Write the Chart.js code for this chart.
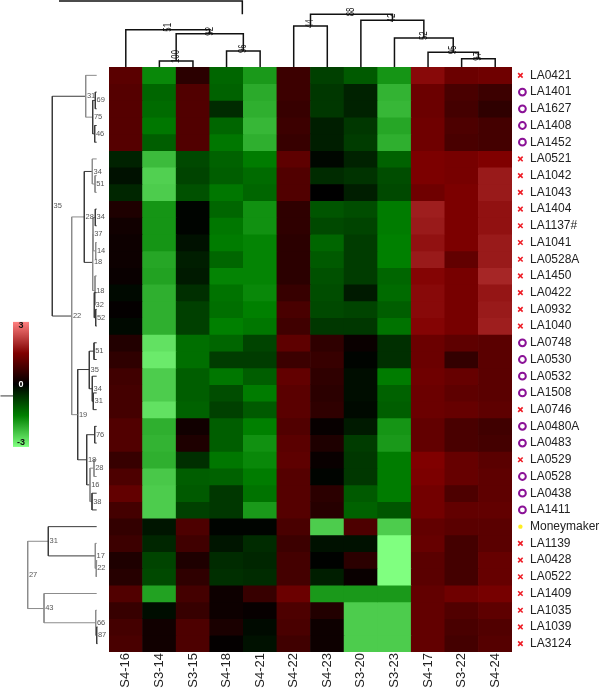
<!DOCTYPE html>
<html>
<head>
<meta charset="utf-8">
<style>html,body{margin:0;padding:0;background:#fff}canvas{display:block}</style>
<script src="https://cdn.jsdelivr.net/npm/chart.js@4/dist/chart.umd.min.js"></script>
</head>
<body>
<canvas id="c" width="600" height="688"></canvas>
<script>
const columnNames = ['S4-16','S3-14','S3-15','S4-18','S4-21','S4-22','S4-23','S3-20','S3-23','S4-17','S3-22','S4-24'];
const rowNames = ['LA0421','LA1401','LA1627','LA1408','LA1452','LA0521','LA1042','LA1043','LA1404','LA1137#','LA1041','LA0528A','LA1450','LA0422','LA0932','LA1040','LA0748','LA0530','LA0532','LA1508','LA0746','LA0480A','LA0483','LA0529','LA0528','LA0438','LA1411','Moneymaker','LA1139','LA0428','LA0522','LA1409','LA1035','LA1039','LA3124'];
const rowMarkers = ['x','o','o','o','o','x','x','x','x','x','x','x','x','x','x','x','o','o','o','o','x','o','o','x','o','o','o','m','x','x','x','x','x','x','x'];
const cellValues = [
[1.05,-1.6,.5,-1.2,-1.8,.7,-.75,-1.05,-1.75,1.6,1.25,1.3],
[1,-1.2,.95,-1.15,-2,.7,-.65,-.4,-2.1,1.25,.85,.7],
[1,-1.25,.95,-.5,-2.05,.65,-.65,-.4,-2.15,1.25,.8,.55],
[1,-1.4,.95,-1.2,-2.15,.7,-.35,-.65,-1.95,1.3,.9,.8],
[1,-1.1,.95,-1.4,-2.05,.65,-.35,-.7,-2.05,1.3,.85,.8],
[-.4,-2.2,-.85,-1.15,-1.45,1.1,-.08,-.4,-1.15,1.45,1.4,1.5],
[-.2,-2.45,-.8,-1.1,-1.25,.95,-.5,-.6,-.9,1.45,1.4,1.8],
[-.45,-2.4,-.95,-1.4,-1.2,.95,0,-.35,-.85,1.3,1.45,1.8],
[.35,-1.75,-.05,-1.2,-1.7,.55,-1,-.9,-1.45,1.85,1.45,1.7],
[.2,-1.75,-.05,-1.4,-1.7,.55,-.85,-.8,-1.45,1.8,1.45,1.7],
[.15,-1.75,-.2,-1.45,-1.55,.5,-1.2,-.7,-1.5,1.7,1.45,1.8],
[.15,-1.95,-.35,-1.2,-1.55,.5,-1.05,-.7,-1.5,1.8,1.15,1.8],
[.1,-1.9,-.3,-1.55,-1.55,.5,-.95,-.7,-1.2,1.55,1.4,1.95],
[-.1,-2.05,-.55,-1.35,-1.6,.65,-.9,-.3,-1.25,1.6,1.4,1.75],
[.05,-2.05,-.75,-1.3,-1.5,.85,-.85,-.8,-1.1,1.6,1.4,1.8],
[-.1,-2.05,-.75,-1.5,-1.4,.75,-.65,-.65,-1.35,1.55,1.4,1.85],
[.4,-2.65,-1.3,-1.2,-.8,1.1,.55,.12,-.55,1.25,1.1,1.05],
[.55,-2.75,-1.3,-.7,-.7,.7,.65,-.05,-.55,1.25,.6,1.05],
[.75,-2.4,-1.1,-1.4,-1.1,1.15,.55,-.15,-1.45,1.3,1.2,1.05],
[.8,-2.4,-1.1,-.9,-1.45,1.05,.5,-.15,-1.15,1.25,1.1,1.05],
[.8,-2.65,-1.15,-.75,-1.05,1.05,.55,-.1,-1.1,1.25,1.2,1.1],
[.95,-2.05,.2,-1.1,-1.5,.95,.08,-.3,-1.75,1.15,.85,.75],
[.95,-2.1,.35,-1.1,-1.7,1.05,.35,-.7,-1.8,1.15,.85,.8],
[.65,-2.05,-.55,-1.4,-1.6,1.1,.1,-.65,-1.45,1.5,1.2,1.05],
[.9,-2.35,-1.1,-1.15,-1.45,1,-.05,-.65,-1.45,1.45,1.2,1.1],
[1.15,-2.4,-1.05,-.65,-1.35,1,.5,-1.05,-1.45,1.35,.9,1.1],
[.8,-2.4,-.75,-.65,-1.8,1,.45,-1.15,-1,1.35,1.15,1.15],
[.6,-.25,.9,-.05,-.05,.85,-2.4,.9,-2.4,1.15,1.05,1.05],
[.7,-.45,.75,-.25,-.5,.7,-.2,-.2,-3,1.2,.8,1.05],
[.35,-.8,.35,-.5,-.45,.8,-.02,.5,-3,1.05,.8,1.2],
[.45,-.85,.55,-.55,-.5,.8,-.35,.1,-3,1.05,.8,1.2],
[.95,-1.9,.8,.15,.65,1.25,-1.8,-1.8,-1.8,1.15,1.3,1.4],
[.65,-.15,.65,.15,.08,.9,.4,-2.4,-2.4,1.15,.95,1.1],
[.8,.2,.9,.3,-.12,.85,.15,-2.4,-2.4,1.15,.85,.95],
[.85,.2,.9,.05,-.2,.75,.15,-2.4,-2.4,1.15,.8,1]
];
// Column dendrogram: [height, left, leftChildHeight, right, rightChildHeight, label]
const columnTree = [
[6,1.5,0,2.5,0,'100'],[16,3.5,0,4.5,0,'96'],[33.3,2,6,4,16,'92'],[37.3,.5,0,3,33.3,'51'],
[41,5.5,0,6.5,0,'44'],[8.3,10.5,0,11.5,0,'97'],[14.7,9.5,0,11,8.3,'95'],[29,8.5,0,10.25,14.7,'52'],
[46.7,7.5,0,9.375,29,'42'],[52.7,6,41,8.44,46.7,'88'],[66,-1.49,66,3.97,52.7,'']
];
// Row dendrogram: [depth, top, topChildDepth, bottom, bottomChildDepth, label, shade]
const rowTree = [
[13.7,1.5,12.3,2.5,12.3,'69',0],[14.3,3.5,12.3,4.5,12.3,'46',0],[16.3,2,13.7,4,14.3,'75',0],[23.3,.5,12.3,3,16.3,'31',1],
[14,6.5,12.3,7.5,12.3,'51',1],[16.7,5.5,12.3,7,14,'34',1],[13.7,8.5,12.3,9.5,12.3,'34',0],[13.3,10.5,12.3,11.5,12.3,'14',1],
[16,9,13.7,11,13.3,'37',1],[13.3,14.5,12.3,15.5,12.3,'52',0],[14.7,13.5,12.3,15,13.3,'32',0],[14,12.5,12.3,14.25,14.7,'18',1],
[16.3,10,16,13.375,14,'18',1],[24.7,6.25,16.7,11.69,16.3,'28',0],[37.3,8.97,24.7,20.8,31.3,'22',1],
[15,16.5,12.3,17.5,12.3,'51',0],[15.7,19.5,12.3,20.5,12.3,'31',0],[16.7,18.5,12.3,20,15.7,'34',0],[19.7,17,15,19.25,16.7,'35',0],
[14.3,21.5,12.3,22.5,12.3,'76',0],[15,23.5,12.3,24.5,12.3,'28',1],[17,25.5,12.3,26.5,12.3,'38',0],[19,24,15,26,17,'16',1],
[22.3,22,14.3,25,19,'18',0],[31.3,18.1,19.7,23.5,22.3,'19',0],[56.7,1.75,23.3,14.9,37.3,'35',0],
[13,29.5,12.3,30.5,12.3,'22',1],[13.7,28.5,12.3,30,13,'17',1],[60.7,27.5,12.3,29.25,13.7,'31',0],
[12.3,33.5,11.5,34.5,11.5,'87',0],[13.3,32.5,12.3,34,12.3,'66',1],[65,31.5,12.3,33.25,13.3,'43',1],[81.3,28.375,60.7,32.4,65,'27',1],
[108.5,0,108.5,19.68,96,'',0]
];
const legendTicks = [3,0,-3];

function heatColor(v){
  const a=Math.min(Math.abs(v),3), knee=1.5;
  const main=a<=knee?128*a/knee:128+127*(a-knee)/(3-knee);
  const other=a<=knee?0:128*(a-knee)/(3-knee);
  const m=Math.round(main), o=Math.round(other);
  return v>=0?`rgb(${m},${o},${o})`:`rgb(${o},${m},${o})`;
}
const shades=['#3a3a3a','#8c8c8c'];
const plotW=403, plotH=585;
const treeStyle={type:'scatter',showLine:true,pointRadius:0,fill:false,tension:0,clip:false,order:2};
const datasets=[];
rowNames.forEach((_,r)=>{
  datasets.push({type:'bar',data:columnNames.map(()=>[r,r+1]),backgroundColor:cellValues[r].map(heatColor),
    borderWidth:0,barPercentage:1,categoryPercentage:1,grouped:false,xAxisID:'x',yAxisID:'y',order:5});
});
columnTree.forEach(n=>datasets.push({...treeStyle,xAxisID:'xu',yAxisID:'dy',borderColor:'#111',borderWidth:1.5,
  data:[{x:n[1],y:-n[2]},{x:n[1],y:-n[0]},{x:n[3],y:-n[0]},{x:n[3],y:-n[4]}]}));
rowTree.forEach(n=>datasets.push({...treeStyle,xAxisID:'dx',yAxisID:'y',borderColor:shades[n[6]],borderWidth:1,
  data:[{x:-n[2],y:n[1]},{x:-n[0],y:n[1]},{x:-n[0],y:n[3]},{x:-n[4],y:n[3]}]}));
const markerPoints=t=>rowMarkers.map((m,r)=>m===t?{x:t==='o'?12.31:12.25,y:r+.5}:null).filter(Boolean);
const markerBase={type:'scatter',xAxisID:'xu',yAxisID:'y',clip:false,order:1,isMarker:true};
datasets.push({...markerBase,data:markerPoints('x'),pointStyle:'crossRot',pointRadius:3.2,borderColor:'#ee1c25',borderWidth:1.6,backgroundColor:'#ee1c25'});
datasets.push({...markerBase,data:markerPoints('o'),pointStyle:'circle',pointRadius:3.4,borderColor:'#8a1096',borderWidth:2,backgroundColor:'rgba(0,0,0,0)'});
datasets.push({...markerBase,data:markerPoints('m'),pointStyle:'circle',pointRadius:2.2,borderColor:'#ffee22',borderWidth:0,backgroundColor:'#ffee22'});

const annotations={id:'annotations',afterDatasetsDraw(chart){
  const {ctx,scales}=chart;
  ctx.save();
  // row markers sit outside the plot area, so their point elements are drawn here without the area test
  chart.data.datasets.forEach((d,i)=>{ if(d.isMarker) chart.getDatasetMeta(i).data.forEach(p=>p.draw(ctx)); });
  // column node labels
  ctx.font='10px "Liberation Sans"';ctx.fillStyle='#111';ctx.textAlign='left';ctx.textBaseline='middle';
  columnTree.forEach(n=>{ if(!n[5])return;
    ctx.save();ctx.translate(scales.xu.getPixelForValue((n[1]+n[3])/2),scales.dy.getPixelForValue(-n[0]+2));
    ctx.rotate(-Math.PI/2);ctx.scale(.78,1);ctx.fillText(n[5],0,0);ctx.restore();});
  // row node labels
  ctx.font='7.5px "Liberation Sans"';ctx.fillStyle='#555';
  rowTree.forEach(n=>{ if(!n[5])return;
    ctx.fillText(n[5],scales.dx.getPixelForValue(-n[0])+1.2,scales.y.getPixelForValue((n[1]+n[3])/2));});
  // colour legend
  const x0=scales.dx.getPixelForValue(-96),x1=scales.dx.getPixelForValue(-80);
  const y0=scales.y.getPixelForValue(15.25),y1=scales.y.getPixelForValue(22.73);
  const g=ctx.createLinearGradient(0,y0,0,y1);
  for(let i=0;i<=24;i++){g.addColorStop(i/24,heatColor(3-i/4));}
  ctx.fillStyle=g;ctx.fillRect(x0,y0,x1-x0,y1-y0);
  ctx.font='bold 9px "Liberation Sans"';ctx.textAlign='center';
  legendTicks.forEach(t=>{
    ctx.fillStyle=t===0?'#fff':'#111';
    const frac=(3-t)/6, inset=t===0?0:(t>0?4:-4);
    ctx.fillText(String(t),(x0+x1)/2,y0+frac*(y1-y0)+inset);});
  ctx.restore();
}};

new Chart(document.getElementById('c'),{
  data:{labels:columnNames,datasets},
  plugins:[annotations],
  options:{
    responsive:false,animation:false,events:[],
    layout:{padding:{left:109,top:67,right:0,bottom:0}},
    plugins:{legend:{display:false},tooltip:{enabled:false},title:{display:false}},
    scales:{
      x:{type:'category',position:'bottom',grid:{display:false,drawTicks:false},border:{display:false},
        ticks:{maxRotation:90,minRotation:90,autoSkip:false,padding:1,color:'#222',font:{family:'"Liberation Sans"',size:13}},
        afterFit(s){s.height=36;}},
      y:{type:'linear',position:'right',reverse:true,min:0,max:rowNames.length,grid:{display:false,drawTicks:false},border:{display:false},
        afterBuildTicks(s){s.ticks=rowNames.map((_,i)=>({value:i+.5}));},
        ticks:{autoSkip:false,padding:18,color:'#222',font:{family:'"Liberation Sans"',size:12},crossAlign:'near',
          callback:v=>rowNames[Math.floor(v)]},
        afterFit(s){s.width=88;}},
      xu:{type:'linear',display:false,min:0,max:columnNames.length},
      dx:{type:'linear',display:false,min:0,max:plotW},
      dy:{type:'linear',display:false,min:0,max:plotH,reverse:true}
    }
  }
});
</script>
</body>
</html>
